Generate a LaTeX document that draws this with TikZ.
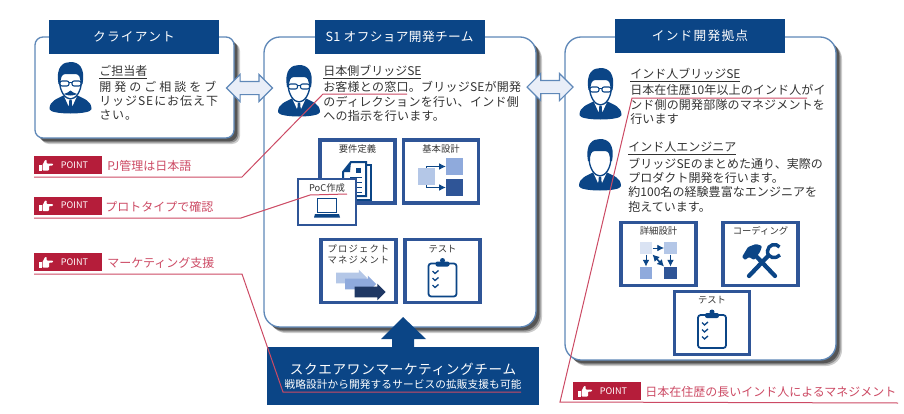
\documentclass[tikz,border=0pt]{standalone}
\usepackage{fontspec}
\usepackage{xcolor}
\usepackage{tikz}
\usetikzlibrary{shapes,shapes.arrows,positioning,arrows.meta,shadows}
\setmainfont{Noto Sans CJK JP}
\newcommand{\pxu}{0.75pt}
\newcommand{\spc}[1]{\addfontfeatures{LetterSpace=#1}}
\definecolor{navy}{HTML}{0B4586}
\definecolor{cardblue}{HTML}{2F5597}
\definecolor{panelline}{HTML}{5F88B8}
\definecolor{crimson}{HTML}{B51D3A}
\definecolor{noteline}{HTML}{CC4A64}
\definecolor{bodygray}{HTML}{333333}
\definecolor{paleblue}{HTML}{DAE3F3}
\definecolor{lightblue}{HTML}{B4C7E7}
\definecolor{midblue}{HTML}{8FAADC}
\definecolor{darkblue}{HTML}{1F3864}

\tikzset{
    % person with shoulders, collar and hair
    pics/person/.style={code={
        \fill [navy] (-21,21) .. controls (-21,13) and (-14,11) .. (-6,7) -- (6,7) .. controls (14,11) and (21,13) .. (21,21) .. controls (21,27) and (-21,27) .. cycle;
        \fill [white] (-7,7) -- (-2,18) -- (0,13) -- (2,18) -- (7,7) -- cycle;
        \fill [navy] (-1.2,12) -- (1.2,12) -- (1.8,21) -- (0,24) -- (-1.8,21) -- cycle;
        \draw [navy, fill=white, line width=1pt] (-11,-8) .. controls (-11,4) and (-5,11) .. (0,11) .. controls (5,11) and (11,4) .. (11,-8) .. controls (11,-22) and (-11,-22) .. cycle;
        \fill [navy] (-12,-4) .. controls (-15,-22) and (-7,-26) .. (0,-26) .. controls (8,-26) and (15,-21) .. (12,-4) -- (10,-4) .. controls (10,-10) and (9,-14) .. (5,-14) -- (-5,-14) .. controls (-9,-14) and (-10,-10) .. (-10,-4) -- cycle;
    }},
    pics/glasses/.style={code={
        \draw [navy, fill=white, line width=0.8pt, rounded corners=1.5pt] (-10.5,-7) rectangle (-1.5,-2);
        \draw [navy, fill=white, line width=0.8pt, rounded corners=1.5pt] (1.5,-7) rectangle (10.5,-2);
        \draw [navy, line width=0.8pt] (-1.5,-5.5) -- (1.5,-5.5);
    }},
    pics/thumb/.style={code={
        \fill [white] (-7,-1) rectangle (-4.5,5);
        \fill [white, rounded corners=0.6pt] (-3.5,-0.5) -- (-1,-5.5) -- (0.8,-5.5) -- (0.6,-2) -- (7,-2) -- (7,0) -- (3,0) -- (3,5) -- (-3.5,5) -- cycle;
    }},
    pics/clipboard/.style={code={
        \draw [navy, fill=white, line width=1.3pt, rounded corners=2pt] (-14,-16) rectangle (14,17);
        \fill [navy, rounded corners=1.5pt] (-7,-18) rectangle (7,-13);
        \fill [navy] (0,-19) circle (2.5);
        \foreach \cy in {-7,0,7} {
            \draw [navy, line width=1pt] (-10,\cy-1.5) -- (-7.5,\cy+1) -- (-4,\cy-2);
        }
    }}
}

\begin{document}
\begin{tikzpicture}[
    x=0.75pt,
    y=-0.75pt,
    panel/.style={
        rectangle,
        draw=panelline,
        fill=white,
        line width=1pt,
        inner sep=0pt,
        drop shadow={shadow xshift=4.5pt,shadow yshift=-4.5pt,fill=black,opacity=0.2},
        drop shadow={shadow xshift=3.5pt,shadow yshift=-3.5pt,fill=black,opacity=0.3},
        drop shadow={shadow xshift=2.5pt,shadow yshift=-2.5pt,fill=black,opacity=0.4}
    },
    header/.style={
        rectangle,
        fill=navy,
        text=white,
        inner sep=0pt,
        minimum width=170*\pxu,
        minimum height=34*\pxu,
        font=\fontsize{9.5}{12}\selectfont
    },
    bodytext/.style={
        anchor=west,
        align=left,
        inner sep=0pt,
        text=bodygray,
        font=\fontsize{9}{10.7}\selectfont
    },
    card/.style={
        rectangle,
        draw=cardblue,
        fill=white,
        line width=2.4pt,
        inner sep=0pt,
        minimum width=75*\pxu,
        minimum height=63*\pxu
    },
    cardtitle/.style={
        inner sep=0pt,
        text=bodygray,
        align=center,
        font=\fontsize{7}{8.4}\selectfont
    },
    swap/.style={
        double arrow,
        draw=panelline,
        fill=paleblue!60,
        line width=0.8pt,
        inner xsep=0pt,
        inner ysep=6*\pxu,
        minimum height=46*\pxu,
        minimum width=27*\pxu,
        double arrow head extend=7*\pxu
    },
    pointtag/.style={
        rectangle,
        fill=crimson,
        text=white,
        inner xsep=14*\pxu,
        inner ysep=0pt,
        text width=40*\pxu,
        align=right,
        minimum height=18*\pxu,
        font=\fontsize{6.8}{8}\selectfont
    },
    pointnote/.style={
        anchor=west,
        inner sep=0pt,
        text=noteline,
        font=\fontsize{9}{10.7}\selectfont
    },
    pointline/.style={draw=noteline, line width=0.75pt},
    square/.style={rectangle, inner sep=0pt, minimum width=17*\pxu, minimum height=17*\pxu},
    smallsquare/.style={rectangle, inner sep=0pt, minimum width=12.5*\pxu, minimum height=12.5*\pxu},
    flow/.style={draw=navy, line width=0.6pt, -{Latex[length=5pt,width=5pt]}},
    block/.style={single arrow, inner xsep=0pt, inner ysep=5*\pxu, minimum height=31*\pxu, minimum width=16*\pxu, single arrow head extend=3*\pxu}
]
    \useasboundingbox (0,0) rectangle (904,414);

    % --- PANELS ---
    \node [panel, rounded corners=6pt, minimum width=199*\pxu, minimum height=101*\pxu] (client) at (134.5,87.5) {};
    \node [panel, rounded corners=12pt, minimum width=272*\pxu, minimum height=290*\pxu] (offshore) at (400,182) {};
    \node [panel, rounded corners=12pt, minimum width=271*\pxu, minimum height=323*\pxu] (india) at (700.5,198.5) {};

    % --- HEADERS ---
    \node [header] (clienthead) at (134,37) {{\spc{10}クライアント}};
    \node [header] (offshorehead) at (399.5,37) {{\spc{3}S1 オフショア開発チーム}};
    \node [header] (indiahead) at (700,36) {{\spc{10}インド開発拠点}};

    % --- ARROWS BETWEEN PANELS ---
    \node [swap] (clientswap) at (249.5,88) {};
    \node [swap] (indiaswap) at (550,87) {};

    % --- MARKETING TEAM ---
    \node [rectangle, fill=navy, inner sep=0pt, minimum width=272*\pxu, minimum height=58*\pxu] (marketing) at (403,376) {};
    \fill [navy] (403,317) -- (426,339) -- (414,339) -- (414,347) -- (392,347) -- (392,339) -- (381,339) -- cycle;
    \node [inner sep=0pt, text=white, font=\fontsize{10.2}{12}\selectfont] (marketingname) at (403,369) {{\spc{5}スクエアワンマーケティングチーム}};
    \node [inner sep=0pt, text=white, font=\fontsize{8}{9.6}\selectfont] (marketingnote) at (403,384) {{\spc{1}戦略設計から開発するサービスの拡販支援も可能}};

    % --- PEOPLE ---
    \pic at (70.5,88) {person};
    \pic at (70.5,88) {glasses};
    \fill [navy] (64,94) .. controls (67,93) and (69,92) .. (70.5,90.5) .. controls (72,92) and (74,93) .. (77,94) .. controls (74,96) and (67,96) .. (64,94) -- cycle;
    \pic at (299,91) {person};
    \pic at (299,91) {glasses};
    \pic at (600.5,94) {person};
    \pic at (600.5,94) {glasses};
    \pic at (600,165) {person};

    % --- TEXTS ---
    \node [bodytext] (clientname) at (99,72) {\underline{ご担当者}};
    \node [bodytext] (clienttext) at (99,100.5) {{\spc{25}開発のご相談をブ}\\{\spc{8}リッジSEにお伝え下}\\{\spc{8}さい。}};
    \node [bodytext] (sejapan) at (323,72) {\underline{日本側ブリッジSE}};
    \node [bodytext] (sejapantext) at (323,101.5) {{\spc{2}お客様との窓口。ブリッジSEが開発}\\{\spc{2.5}のディレクションを行い、インド側}\\{\spc{2.5}への指示を行います。}};
    \node [bodytext] (seindia) at (630,75) {\underline{インド人ブリッジSE}};
    \node [bodytext] (seindiatext) at (630,104.5) {{\spc{1}日本在住歴10年以上のインド人がイ}\\{\spc{1.5}ンド側の開発部隊のマネジメントを}\\{\spc{1.5}行います}};
    \node [bodytext] (engineer) at (628,148) {\underline{インド人エンジニア}};
    \node [bodytext] (engineertext) at (628,185) {{\spc{0.5}ブリッジSEのまとめた通り、実際の}\\{\spc{0.5}プロダクト開発を行います。}\\{\spc{0.5}約100名の経験豊富なエンジニアを}\\{\spc{0.5}抱えています。}};

    % --- OFFSHORE CARDS ---
    \node [card] (requirement) at (357.5,171.5) {};
    \node [cardtitle] (requirementname) at (357.5,149) {要件定義};
    % stacked sheets
    \draw [navy, fill=white, line width=1.5pt] (362,165) -- (371,165) -- (371,200) -- (350,200);
    \draw [navy, fill=white, line width=1.5pt] (343,172) -- (351,162) -- (366,162) -- (366,196) -- (343,196) -- cycle;
    \fill [navy] (343,172) -- (350,172) -- (351,162) -- cycle;
    \fill [navy] (356,168) rectangle (361,173);
    \foreach \ly in {177,182,187,192} {
        \draw [navy, line width=0.7pt] (350,\ly) -- (362,\ly);
    }

    \node [card] (basic) at (441,171.5) {};
    \node [cardtitle] (basicname) at (441,149) {基本設計};
    \node [square, fill=lightblue] (basicsource) at (426.5,176.5) {};
    \node [square, fill=midblue] (basicupper) at (454.5,166.5) {};
    \node [square, fill=cardblue] (basiclower) at (454.5,187.5) {};
    \draw [flow] (basicsource.north) |- (basicupper.west);
    \draw [flow] (basicsource.south) |- (basiclower.west);

    \node [card, line width=1.5pt, minimum width=58*\pxu, minimum height=46*\pxu] (poc) at (327,202) {};
    \node [cardtitle] (pocname) at (327,188) {PoC作成};
    \node [rectangle, draw=navy, fill=white, line width=1pt, inner sep=0pt, minimum width=19*\pxu, minimum height=14*\pxu] (laptop) at (327,205.5) {};
    \fill [navy] (315,214) -- (339,214) -- (340,217.5) -- (314,217.5) -- cycle;

    \node [card] (project) at (358.5,271) {};
    \node [cardtitle] (projectname) at (358.5,254.5) {{\spc{12}プロジェクト}\\{\spc{12}マネジメント}};
    \node [block, fill=lightblue] (phaseone) at (349,278) {};
    \node [block, fill=midblue] (phasetwo) at (358,284) {};
    \node [block, fill=darkblue] (phasethree) at (367.5,292) {};

    \node [card] (offshoretest) at (442.5,271) {};
    \node [cardtitle] (offshoretestname) at (442.5,249) {テスト};
    \pic at (442.5,279.5) {clipboard};

    % --- INDIA CARDS ---
    \node [card] (detail) at (658.5,254) {};
    \node [cardtitle] (detailname) at (658.5,231) {詳細設計};
    \node [smallsquare, fill=paleblue] (detailone) at (646,248) {};
    \node [smallsquare, fill=lightblue] (detailtwo) at (670.5,248) {};
    \node [smallsquare, fill=midblue] (detailthree) at (646,273) {};
    \node [smallsquare, fill=cardblue] (detailfour) at (670.5,273) {};
    \draw [flow] (detailone) -- (detailtwo);
    \draw [flow] (detailone) -- (detailthree);
    \draw [flow] (detailtwo) -- (detailfour);
    \draw [draw=navy, line width=1.2pt, {Latex[length=5pt,width=5.5pt]}-{Latex[length=5pt,width=5.5pt]}] (detailone.south east) -- (detailfour.north west);

    \node [card] (coding) at (760.5,254) {};
    \node [cardtitle] (codingname) at (760.5,231) {コーディング};
    % hammer and wrench
    \draw [navy, line width=3.2pt, line cap=round] (749,276) -- (768,256);
    \draw [navy, line width=2.6pt] (779.5,247) .. controls (776,242.5) and (768,244.5) .. (767.5,251) .. controls (767,258) and (776,259.5) .. (780,255);
    \draw [navy, line width=3.2pt, line cap=round] (775,276) -- (755,255);
    \fill [navy, rounded corners=0.8pt] (742,257) -- (748,247) -- (756,244) -- (762,246) -- (760,252) -- (754,260) -- (749,257) -- (745,260) -- cycle;

    \node [card] (indiatest) at (712,323) {};
    \node [cardtitle] (indiatestname) at (712,300) {テスト};
    \pic at (712,331) {clipboard};

    % --- POINT TAGS ---
    \node [pointtag] (pointpj) at (68,165) {POINT};
    \pic at (46,165.5) {thumb};
    \node [pointnote] (pointpjnote) at (107,166) {PJ管理は日本語};
    \node [pointtag] (pointpoc) at (68,205.5) {POINT};
    \pic at (46,206) {thumb};
    \node [pointnote] (pointpocnote) at (105,207) {プロトタイプで確認};
    \node [pointtag] (pointmarketing) at (68,262) {POINT};
    \pic at (46,262.5) {thumb};
    \node [pointnote] (pointmarketingnote) at (107,263) {マーケティング支援};
    \node [pointtag] (pointindia) at (607,391) {POINT};
    \pic at (585,391.5) {thumb};
    \node [pointnote] (pointindianote) at (645,392) {日本在住歴の長いインド人によるマネジメント};

    % --- POINT LINES ---
    \coordinate (pjstart) at (34,177);
    \coordinate (pjbend) at (242,177);
    \coordinate (pjkink) at (323,94);
    \coordinate (pjend) at (407,94);
    \draw [pointline] (pjstart) -- (pjbend) -- (pjkink) -- (pjend);

    \coordinate (pocstart) at (34,218);
    \coordinate (pocbend) at (241,218);
    \coordinate (pockink) at (310,195);
    \coordinate (pocend) at (347,194);
    \draw [pointline] (pocstart) -- (pocbend) -- (pockink) -- (pocend);

    \coordinate (marketingstart) at (34,274);
    \coordinate (marketingbend) at (242,274);
    \coordinate (marketingkink) at (283,392);
    \coordinate (marketingend) at (521,392);
    \draw [pointline] (marketingstart) -- (marketingbend) -- (marketingkink) -- (marketingend);

    \coordinate (indiastart) at (898,403);
    \coordinate (indiabend) at (560,402);
    \coordinate (indiakink) at (632,98);
    \coordinate (indiaend) at (807,98);
    \draw [pointline] (indiastart) -- (indiabend) -- (indiakink) -- (indiaend);

\end{tikzpicture}
\end{document}
